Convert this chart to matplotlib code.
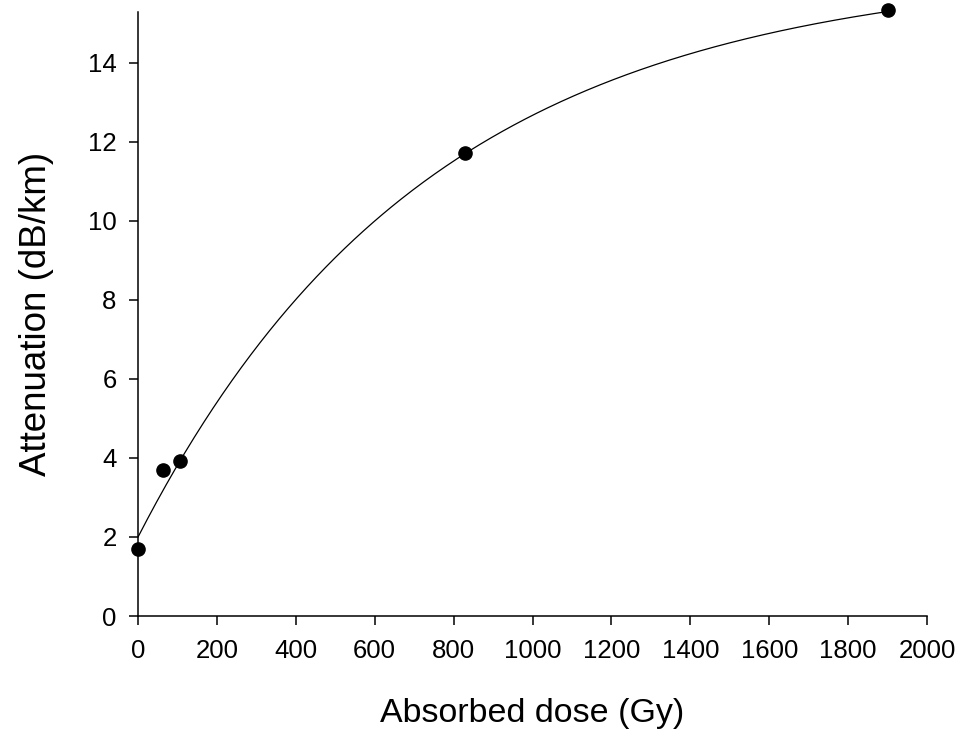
import numpy as np
import matplotlib
matplotlib.use('Agg')
import matplotlib.pyplot as plt

# measured points
dose  = [0, 62, 107, 828, 1900]
atten = [1.70, 3.70, 3.93, 11.72, 15.35]

# fitted curve: y = y0 + a*(1 - exp(-b*x))
y0 = 2.0
a  = 14.41
b  = 0.00135

xticks = [0, 200, 400, 600, 800, 1000, 1200, 1400, 1600, 1800, 2000]
yticks = [0, 2, 4, 6, 8, 10, 12, 14]

plt.rcParams['font.family'] = ['Liberation Sans', 'DejaVu Sans']

fig = plt.figure(figsize=(9.6, 7.35), dpi=100)
ax = fig.add_axes([0.1438, 0.1619, 0.8218, 0.8218])

xfit = np.linspace(0, max(dose), 400)
yfit = y0 + a*(1 - np.exp(-b*xfit))
ax.plot(xfit, yfit, color='black', lw=0.9)
ax.plot(dose, atten, 'o', color='black', ms=9.5, clip_on=False, zorder=3)

ax.set_xlim(0, 2000)
ax.set_ylim(0, 15.29)
ax.set_xticks(xticks)
ax.set_yticks(yticks)
ax.spines['top'].set_visible(False)
ax.spines['right'].set_visible(False)
for s in ['left', 'bottom']:
	ax.spines[s].set_linewidth(1.1)
ax.tick_params(axis='both', direction='out', length=6.5, width=1.1, labelsize=18.5)
ax.tick_params(axis='x', pad=10)
ax.tick_params(axis='y', pad=9)

ax.set_xlabel('Absorbed dose (Gy)', fontsize=24.5, labelpad=25)
ax.set_ylabel('Attenuation (dB/km)', fontsize=26.5, labelpad=24)

fig.savefig('out.png', dpi=100)
